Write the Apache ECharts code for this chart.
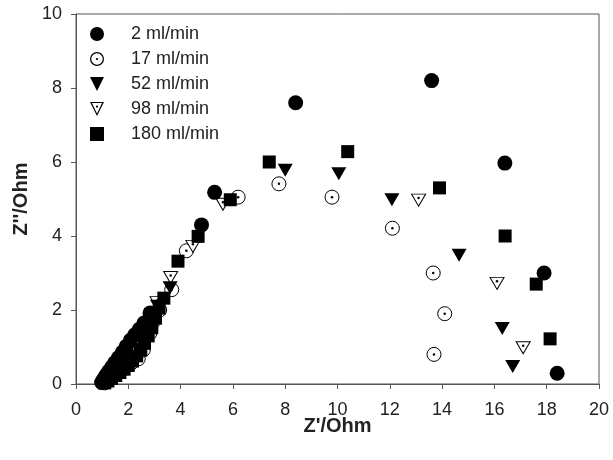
<!DOCTYPE html>
<html lang="en">
<head>
	<meta charset="UTF-8">
	<title>Nyquist</title>
	<script src="https://cdn.jsdelivr.net/npm/echarts@6/dist/echarts.min.js"></script>
	<style>
		html,body{margin:0;padding:0;background:#fff;}
		#box{width:613px;height:460px;}
	</style>
</head>
<body>
<div id="box"></div>
<script>
	// series names
	let names=['2 ml/min','17 ml/min','52 ml/min','98 ml/min','180 ml/min'];
	let xTicks=[0,2,4,6,8,10,12,14,16,18,20];
	let yTicks=[0,2,4,6,8,10];

	// [Z', Z'']
	let f2=[[0.98,0.04],[1.03,0.1],[1.09,0.17],[1.16,0.25],[1.25,0.34],[1.36,0.45],[1.48,0.57],[1.62,0.71],[1.77,0.86],[1.92,1.02],[2.08,1.18],[2.25,1.33],[2.42,1.48],[2.6,1.65],[2.83,1.92],[4.8,4.3],[5.3,5.18],[8.4,7.6],[13.6,8.2],[16.4,5.97],[17.9,3.0],[18.4,0.29]];
	let f17=[[1.1,0.03],[1.2,0.08],[1.32,0.14],[1.45,0.21],[1.6,0.29],[1.76,0.38],[1.93,0.48],[2.12,0.57],[2.38,0.68],[2.57,0.92],[2.82,1.37],[3.0,1.72],[3.2,2.0],[3.66,2.55],[4.22,3.6],[6.2,5.05],[7.76,5.41],[9.79,5.05],[12.1,4.21],[13.66,3.0],[14.1,1.9],[13.69,0.8]];
	let f52=[[1.06,0.02],[1.16,0.07],[1.28,0.13],[1.42,0.2],[1.57,0.28],[1.73,0.37],[1.9,0.47],[2.07,0.59],[2.24,0.73],[2.4,0.9],[2.55,1.1],[2.69,1.32],[2.83,1.56],[2.97,1.82],[3.12,2.1],[3.6,2.6],[8.0,5.78],[10.05,5.68],[12.08,4.98],[14.65,3.48],[16.3,1.5],[16.7,0.47]];
	let f98=[[1.12,0.03],[1.22,0.1],[1.34,0.17],[1.48,0.26],[1.63,0.36],[1.78,0.48],[1.94,0.62],[2.1,0.78],[2.26,0.96],[2.42,1.16],[2.58,1.38],[2.74,1.62],[2.9,1.88],[3.1,2.2],[3.62,2.88],[4.47,3.72],[5.62,4.86],[13.1,4.97],[16.1,2.72],[17.1,0.98]];
	let f180=[[1.1,0.03],[1.22,0.08],[1.36,0.15],[1.52,0.23],[1.68,0.31],[1.84,0.4],[2.0,0.5],[2.16,0.62],[2.32,0.76],[2.48,0.92],[2.62,1.1],[2.76,1.3],[2.9,1.52],[3.04,1.78],[3.18,2.05],[3.36,2.32],[3.9,3.32],[4.67,3.99],[5.9,4.98],[7.39,6.0],[10.39,6.28],[13.9,5.3],[16.41,4.0],[17.6,2.7],[18.13,1.22]];

	let ringDot='path://M50,0A50,50,0,1,1,50,100A50,50,0,1,1,50,0ZM50,9A41,41,0,1,0,50,91A41,41,0,1,0,50,9ZM50,42A8,8,0,1,1,50,58A8,8,0,1,1,50,42Z';
	let triDown='path://M0,0L100,0L50,100Z';
	let triDot='path://M0,0L100,0L50,100ZM14,7L50,83L86,7ZM50,25A8,8,0,1,1,50,41A8,8,0,1,1,50,25Z';

	let font='Arial, "Liberation Sans", sans-serif';
	let black='#000';
	let solid={color:black,opacity:1};
	let open={color:'#fff',borderColor:black,borderWidth:1,opacity:1};

	let options={
		animation:false,
		textStyle:{fontFamily:font},
		grid:{left:76,right:14,top:14,bottom:76,show:true,borderColor:'#555',borderWidth:1},
		legend:{
			orient:'vertical',left:90,top:25,padding:0,itemGap:7,
			itemWidth:14,itemHeight:14,
			textStyle:{fontSize:18,color:'#222',fontFamily:font,padding:[0,0,0,22]},
			data:[
				{name:names[0],icon:'circle',itemStyle:{color:black,borderWidth:0,opacity:1}},
				{name:names[1],icon:ringDot,itemStyle:{color:black,borderWidth:0,opacity:1}},
				{name:names[2],icon:triDown,itemStyle:{color:black,borderWidth:0,opacity:1}},
				{name:names[3],icon:triDot,itemStyle:{color:black,borderWidth:0,opacity:1}},
				{name:names[4],icon:'rect',itemStyle:{color:black,borderWidth:0,opacity:1}}
			]
		},
		xAxis:{
			type:'value',min:xTicks[0],max:xTicks[xTicks.length-1],interval:2,
			name:"Z'/Ohm",nameLocation:'middle',nameGap:32,nameMoveOverlap:false,
			nameTextStyle:{fontSize:20,fontWeight:'bold',color:'#222',fontFamily:font},
			axisLine:{lineStyle:{color:'#555'}},
			axisTick:{length:5,lineStyle:{color:'#555'}},
			axisLabel:{fontSize:18,color:'#222',margin:17,fontFamily:font},
			splitLine:{show:false}
		},
		yAxis:{
			type:'value',min:yTicks[0],max:yTicks[yTicks.length-1],interval:2,
			name:"Z''/Ohm",nameLocation:'middle',nameGap:32,
			nameTextStyle:{fontSize:20,fontWeight:'bold',color:'#222',fontFamily:font},
			axisLine:{show:true,lineStyle:{color:'#555'}},
			axisTick:{show:true,length:5,lineStyle:{color:'#555'}},
			axisLabel:{fontSize:18,color:'#222',margin:14,fontFamily:font},
			splitLine:{show:false}
		},
		// open markers drawn first, filled ones over them
		series:[
			{name:names[1],type:'scatter',symbol:'circle',symbolSize:14,itemStyle:open,data:f17},
			{name:'dot17',type:'scatter',symbol:'circle',symbolSize:2.5,silent:true,itemStyle:solid,data:f17},
			{name:names[3],type:'scatter',symbol:'triangle',symbolRotate:180,symbolSize:[14,12],itemStyle:open,data:f98},
			{name:'dot98',type:'scatter',symbol:'circle',symbolSize:2.5,symbolOffset:[0,-2],silent:true,itemStyle:solid,data:f98},
			{name:names[0],type:'scatter',symbol:'circle',symbolSize:15,itemStyle:solid,data:f2},
			{name:names[2],type:'scatter',symbol:'triangle',symbolRotate:180,symbolSize:[15,13],itemStyle:solid,data:f52},
			{name:names[4],type:'scatter',symbol:'rect',symbolSize:13,itemStyle:solid,data:f180}
		]
	};
	let chart=echarts.init(document.getElementById('box'));
	chart.setOption(options);
</script>
</body>
</html>
